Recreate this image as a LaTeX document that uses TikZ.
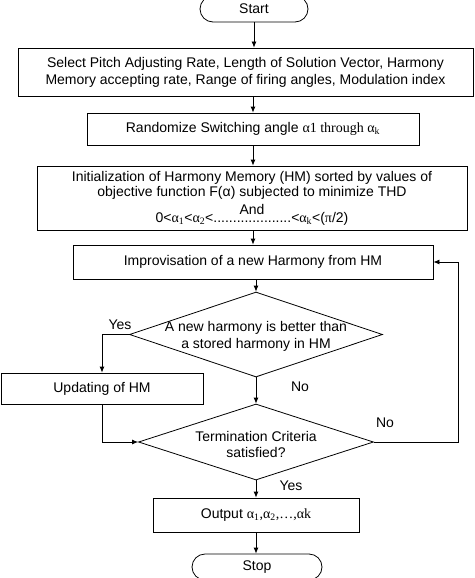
\documentclass[tikz,border=0pt]{standalone}
\usepackage{fontspec}
\setmainfont{Liberation Sans}
\newfontfamily\tms{Liberation Serif}
\usetikzlibrary{shapes.geometric,arrows.meta}
\newcommand\al{{\tms α}}
\newcommand\sbs[1]{\textsubscript{\tms #1}}
\begin{document}
\begin{tikzpicture}[x=1pt,y=-1pt,
  font=\fontsize{14}{15}\selectfont, line width=0.8pt,
  box/.style={draw, rectangle, inner sep=0pt, align=center},
  term/.style={draw, rectangle, rounded corners=13pt, inner sep=0pt},
  dec/.style={draw, diamond, inner sep=0pt},
  arr/.style={-{Latex[length=6pt,width=5pt]}},
  lbl/.style={inner sep=0pt}]
\useasboundingbox (0,0) rectangle (474,578);

\node[term, minimum width=108pt, minimum height=26pt] (start) at (254,9) {Start};
\node[box, minimum width=455pt, minimum height=48pt] (box1) at (245.5,72)
  {Select Pitch Adjusting Rate, Length of Solution Vector, Harmony\\[2pt]
   Memory accepting rate, Range of firing angles, Modulation index};
\node[box, minimum width=332pt, minimum height=32pt] (box2) at (253,129)
  {Randomize Switching angle {\tms α1 through α\textsubscript{k}}};
\node[box, minimum width=430pt, minimum height=64pt] (box3) at (252,198)
  {Initialization of Harmony Memory (HM) sorted by values of\\
   objective function F(α) subjected to minimize THD\\[3pt]
   And\\[-7pt]
   0<\al\sbs{1}<\al\sbs{2}<....................<\al\sbs{k}<({\tms π}/2)};
\node[box, minimum width=360pt, minimum height=34pt] (box4) at (253,262)
  {Improvisation of a new Harmony from HM};
\node[dec, minimum width=253pt, minimum height=85pt,
  label={[align=center, yshift=-1.5pt]center:A new harmony is better than\\[2pt] a stored harmony in HM}]
  (d1) at (256,334.5) {};
\node[box, minimum width=202pt, minimum height=31pt] (box5) at (102,388.5)
  {Updating of HM};
\node[dec, minimum width=235pt, minimum height=76pt,
  label={[align=center, yshift=-2pt]center:Termination Criteria\\[1pt] satisfied?}]
  (d2) at (256,442) {};
\node[box, minimum width=206pt, minimum height=34pt] (box6) at (256,515)
  {Output {\tms α\textsubscript{1},α\textsubscript{2},…,αk}};
\node[term, minimum width=130pt, minimum height=26pt] (stop) at (257,567) {Stop};

\coordinate (rc) at (458,442);

\draw[arr] (start.south) -- (start.south |- box1.north);
\draw[arr] (box1.south -| box2) -- (box2.north);
\draw[arr] (box2.south) -- (box2.south |- box3.north);
\draw[arr] (box3.south -| box4) -- (box4.north);
\draw[arr] (box4.south -| d1) -- (d1.north);
\draw[arr] (d1.west) -| (box5.north);
\draw[arr] (d1.south) -- (d2.north);
\draw[arr] (box5.south) |- (d2.west);
\draw[arr] (d2.east) -- (rc) |- (box4.east);
\draw[arr] (d2.south) -- (box6.north);
\draw[arr] (box6.south) -- (box6.south |- stop.north);

\node[lbl] (yes1) at (120,325) {Yes};
\node[lbl] (no1) at (300,387) {No};
\node[lbl] (no2) at (385,423) {No};
\node[lbl] (yes2) at (291,486) {Yes};
\end{tikzpicture}
\end{document}
